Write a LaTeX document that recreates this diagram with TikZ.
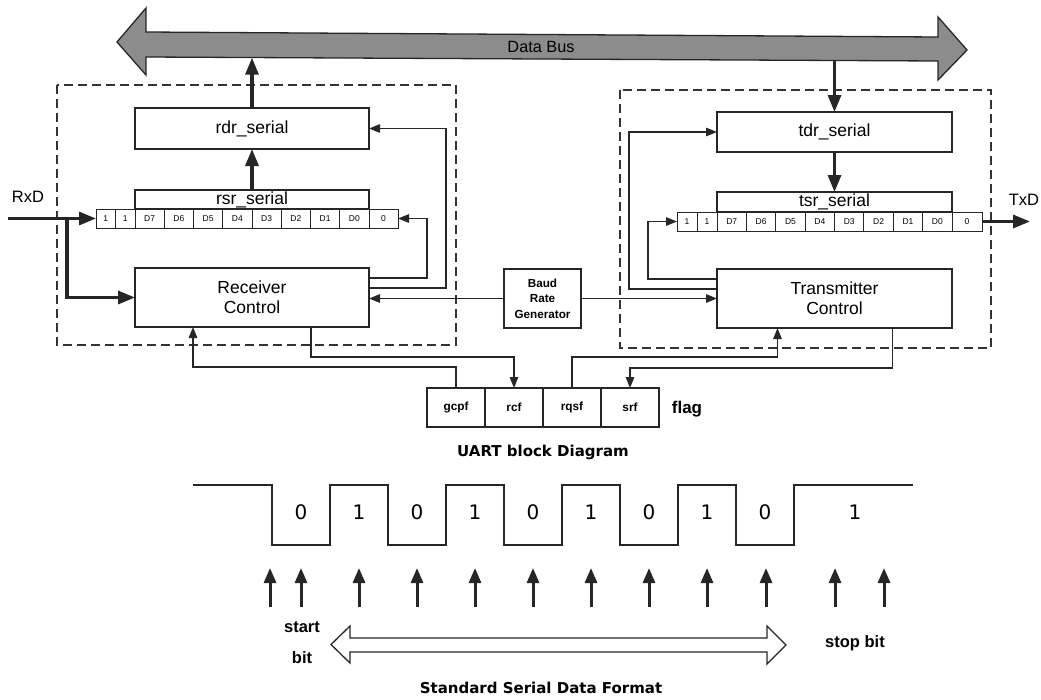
\documentclass[tikz,border=0pt]{standalone}
\usepackage{fontspec}
\setmainfont{Liberation Sans}
\newfontfamily\dvsans{DejaVu Sans}
\usetikzlibrary{arrows.meta,calc}

\begin{document}
\begin{tikzpicture}[x=1pt,y=-1pt,
  box/.style={draw=black!85, line width=1.2pt, inner sep=0pt, outer sep=0pt,
    font=\fontsize{17.5}{20.4}\selectfont, align=center},
  cell/.style={draw=black!85, line width=1pt, inner sep=0pt, outer sep=0pt,
    minimum height=19pt, font=\fontsize{8.5}{9}\selectfont},
  flagbox/.style={draw=black!85, line width=1.2pt, inner sep=0pt, outer sep=0pt,
    minimum width=58pt, minimum height=39pt, font=\bfseries\fontsize{11.8}{13}\selectfont},
  frame/.style={draw=black!80, line width=1.3pt, dash pattern=on 9pt off 5pt},
  wire/.style={draw=black!85, line width=1.3pt, -{Triangle[length=11pt,width=8.5pt]}},
  bigwire/.style={draw=black!85, line width=3.2pt, -{Triangle[length=17pt,width=13pt]}},
  sample/.style={draw=black!85, line width=3pt, -{Triangle[length=15pt,width=12pt]}},
  lbl/.style={font=\fontsize{16.5}{19}\selectfont},
  boldlbl/.style={font=\bfseries\fontsize{16.5}{19}\selectfont},
  caption/.style={font=\dvsans\bfseries\fontsize{15}{18}\selectfont},
  bitval/.style={font=\dvsans\fontsize{20}{22}\selectfont},
]
\useasboundingbox (0,0) rectangle (1041,699);

% ---------- data bus ----------
\draw[draw=black!85, line width=1.3pt, fill=black!45]
  (117,42) -- (146,8) -- (146,32) -- (938,37) -- (938,17) -- (967,50)
  -- (938,80) -- (938,61) -- (146,57) -- (146,75) -- cycle;
\node[font=\fontsize{16.3}{18}\selectfont] (busname) at (541,47) {Data Bus};
\coordinate (busL) at (252,57.7);
\coordinate (busR) at (834.5,60.5);

% ---------- receiver / transmitter groups ----------
\draw[frame] (57,85) rectangle (456,345);
\draw[frame] (620,90) rectangle (991,348);

% ---------- receiver side ----------
\node[box, minimum width=234pt, minimum height=41pt] (rdr) at (252,128.5) {rdr\_serial};
\node[box, minimum width=234pt, minimum height=19pt] (rsrh) at (252,199.5) {rsr\_serial};
\foreach \n/\t/\a/\b in {1/1/96/115.5, 2/1/115.5/135, 3/D7/135/164.25,
    4/D6/164.25/193.5, 5/D5/193.5/222.75, 6/D4/222.75/252, 7/D3/252/281.25,
    8/D2/281.25/310.5, 9/D1/310.5/339.75, 10/D0/339.75/369, 11/0/369/398}
  \node[cell, minimum width={(\b-\a)*1pt}] (r\n) at ({(\a+\b)/2},218.5) {\t};
\node[box, minimum width=234pt, minimum height=59pt] (rc) at (252,297.5) {Receiver\\Control};

% ---------- baud rate generator ----------
\node[box, minimum width=77pt, minimum height=59pt,
  font=\bfseries\fontsize{11.7}{15.5}\selectfont] (baud) at (542.5,298.5) {Baud\\Rate\\Generator};

% ---------- transmitter side ----------
\node[box, minimum width=235pt, minimum height=40pt] (tdr) at (834.5,132) {tdr\_serial};
\node[box, minimum width=235pt, minimum height=20pt] (tsrh) at (834.5,202) {tsr\_serial};
\foreach \n/\t/\a/\b in {1/1/677/697, 2/1/697/717, 3/D7/717/746.375,
    4/D6/746.375/775.75, 5/D5/775.75/805.125, 6/D4/805.125/834.5,
    7/D3/834.5/863.875, 8/D2/863.875/893.25, 9/D1/893.25/922.625,
    10/D0/922.625/952, 11/0/952/982}
  \node[cell, minimum width={(\b-\a)*1pt}] (t\n) at ({(\a+\b)/2},221.5) {\t};
\node[box, minimum width=235pt, minimum height=59pt] (tc) at (834.5,298.5) {Transmitter\\Control};

% ---------- flag register ----------
\node[flagbox] (gcpf) at (456,407.5) {gcpf};
\node[flagbox] (rcf)  at (514,407.5) {rcf};
\node[flagbox] (rqsf) at (572,407.5) {rqsf};
\node[flagbox] (srf)  at (630,407.5) {srf};
\node[font=\bfseries\fontsize{17}{20}\selectfont] (flagname) at (687,409) {flag};

% ---------- serial pins ----------
\node[lbl] (rxd) at (28,197) {RxD};
\node[lbl] (txd) at (1024,200) {TxD};
\coordinate (rxin) at (8,218.5);
\coordinate (rxtap) at (67,218.5);
\coordinate (txout) at (1030,221.5);

% ---------- wide data paths ----------
\draw[bigwire] (rdr.north) -- (busL);
\draw[bigwire] (rsrh.north) -- (rdr.south);
\draw[bigwire] (busR) -- (tdr.north);
\draw[bigwire] (tdr.south) -- (tsrh.north);
\draw[bigwire] (rxin) -- (r1.west);
\draw[bigwire] (rxtap) |- (rc.west);
\draw[bigwire] (t11.east) -- (txout);

% ---------- control wires ----------
\draw[wire] ($(rc.north east)+(0,10)$) -- ++(58,0) |- (r11.east);
\draw[wire] ($(rc.north east)+(0,20)$) -- ++(77,0) |- (rdr.east);
\draw[wire] (baud.west) -- (baud.west -| rc.east);
\draw[wire] (baud.east) -- (baud.east -| tc.west);
\draw[wire] ($(tc.north west)+(0,10)$) -- ++(-69,0) |- (t1.west);
\draw[wire] ($(tc.north west)+(0,20)$) -- ++(-88,0) |- (tdr.west);
\draw[wire] ($(rc.south)+(59,0)$) -- ++(0,30) -| (rcf.north);
\draw[wire] (gcpf.north) -- ++(0,-21) -| ($(rc.south)+(-59,0)$);
\draw[wire] (rqsf.north) -- ++(0,-31) -| ($(tc.south)+(-57,0)$);
\draw[wire] ($(tc.south)+(58,0)$) -- ++(0,40) -| (srf.north);

\node[caption] (uart) at (543,452) {UART block Diagram};

% ---------- serial frame waveform ----------
\draw[black!85, line width=1.3pt] (193,485) -- (272,485) -- (272,545) -- (330,545)
  -- (330,485) -- (388,485) -- (388,545) -- (446,545) -- (446,485) -- (504,485)
  -- (504,545) -- (562,545) -- (562,485) -- (620,485) -- (620,545) -- (678,545)
  -- (678,485) -- (736,485) -- (736,545) -- (794,545) -- (794,485) -- (913,485);
\foreach \i/\v in {0/0,1/1,2/0,3/1,4/0,5/1,6/0,7/1,8/0}
  \node[bitval] (bit\i) at ({301+58*\i},512) {\v};
\node[bitval] (bit9) at (855,512) {1};

% sampling instants
\foreach \x in {270,301,359,417,475,533,591,649,707,766,835,884}
  \draw[sample] (\x,607) -- (\x,568);

% data bits span
\draw[black!85, line width=1.3pt, fill=white]
  (331,644.5) -- (350,626) -- (350,638) -- (767,638) -- (767,626) -- (786,645)
  -- (767,664) -- (767,652) -- (350,652) -- (350,663) -- cycle;

\node[boldlbl] (start) at (302,627) {start};
\node[boldlbl] (startbit) at (302,658) {bit};
\node[boldlbl] (stopbit) at (855,643) {stop bit};
\node[caption] (format) at (541,688) {Standard Serial Data Format};
\end{tikzpicture}
\end{document}
